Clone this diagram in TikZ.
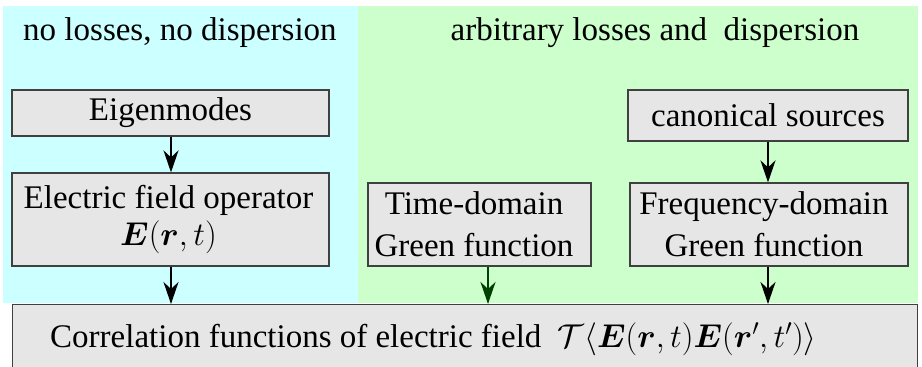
\RequirePackage{fix-cm}
\documentclass[tikz,border=0pt]{standalone}
\usepackage{amsmath}
\usepackage{bm}
\usepackage{fontspec}
\setmainfont{Liberation Serif}
\usetikzlibrary{arrows.meta,calc}
\definecolor{bgcyan}{HTML}{CCFFFF}
\definecolor{bggreen}{HTML}{CCFFCC}
\definecolor{boxfill}{HTML}{E6E6E6}
\definecolor{boxline}{HTML}{404040}
\definecolor{darkgreen}{HTML}{004000}
\begin{document}
\begin{tikzpicture}[x=1pt,y=-1pt,
  font=\fontsize{33}{39}\selectfont,
  box/.style={draw=boxline,line width=1.2pt,fill=boxfill,inner sep=0pt,align=center},
  arr/.style={line width=2.2pt,-{Stealth[length=22pt,width=15pt,inset=7pt]}},
  title/.style={inner sep=0pt}]
\useasboundingbox (0,0) rectangle (922,367);
\fill[white] (0,0) rectangle (922,367);
\fill[bgcyan] (3,6) rectangle (358,303);
\fill[bggreen] (358,6) rectangle (918,303);
\node[title] (t1) at (180,33) {no losses, no dispersion};
\node[title] (t2) at (655,33) {arbitrary losses and \ dispersion};
\node[box,minimum width=317pt,minimum height=46pt] (eig) at (170.5,113) {Eigenmodes};
\node[box,minimum width=317pt,minimum height=93pt] (efo) at (170.5,219.5) {Electric field operator\hspace*{4pt}\\[-2pt] $\bm{E}(\bm{r},t)$\hspace*{4pt}};
\node[box,minimum width=223pt,minimum height=83pt] (tdg) at (479.5,224.5) {Time-domain\hspace*{11pt}\\[3pt] Green function\hspace*{11pt}};
\node[box,minimum width=280pt,minimum height=51pt] (can) at (768,115.5) {canonical sources};
\node[box,minimum width=278pt,minimum height=83pt] (fdg) at (769,224.5) {Frequency-domain\hspace*{10pt}\\[3pt] Green function\hspace*{10pt}};
\node[box,minimum width=905pt,minimum height=76pt,anchor=north west,text depth=0pt] (corr) at (12,304) {};
\node[inner sep=0pt,anchor=west] (corrtxt) at (50,339) {Correlation functions of electric field \ $\mathcal{T}\langle \bm{E}(\bm{r},t)\bm{E}(\bm{r}',t')\rangle$};
\draw[arr] (eig.south -| 171,0) -- (efo.north -| 171,0);
\draw[arr] (efo.south -| 171,0) -- (corr.north -| 171,0);
\draw[arr,darkgreen] (tdg.south -| 488,0) -- (corr.north -| 488,0);
\draw[arr] (can.south -| 768,0) -- (fdg.north -| 768,0);
\draw[arr] (fdg.south -| 768,0) -- (corr.north -| 768,0);
\end{tikzpicture}
\end{document}
